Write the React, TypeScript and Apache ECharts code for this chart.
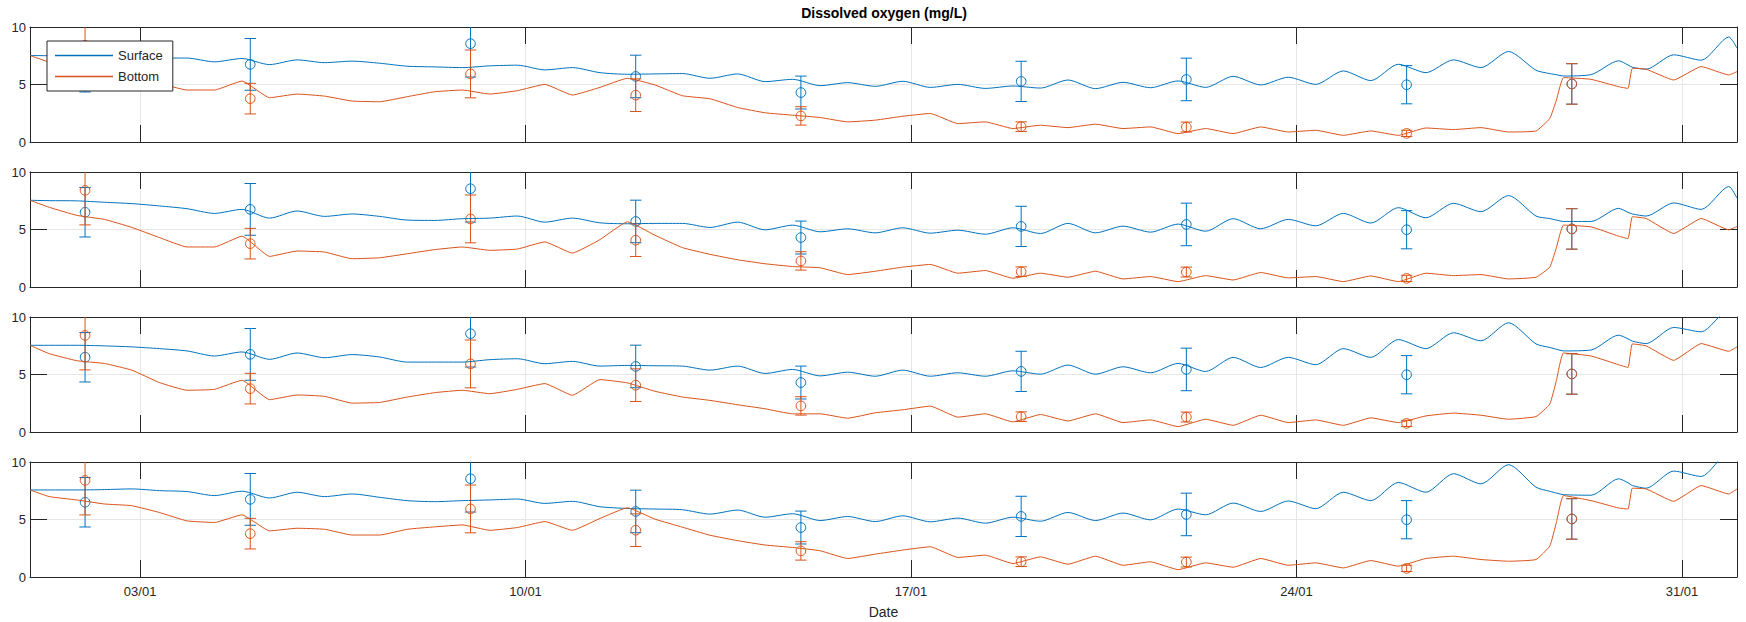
import React, { useEffect, useRef } from 'react';
import * as echarts from 'echarts';

// time in days since 01/01 00:00
const days = [
  0, 0.35, 0.85, 1.35, 1.85, 2.35, 2.85, 3.35, 3.85, 4.35, 4.85, 5.35, 5.85, 6.35, 6.85, 7.35, 7.85, 8.35, 8.85, 9.35, 9.85, 10.35,
  10.85, 11.35, 11.85, 12.35, 12.85, 13.35, 13.85, 14.35, 14.85, 15.35, 15.85, 16.35, 16.85, 17.35, 17.85, 18.35, 18.85, 19.35, 19.85, 20.35, 20.85,
  21.35, 21.85, 22.35, 22.85, 23.35, 23.85, 24.35, 24.85, 25.35, 25.85, 26.35, 26.85,
  27.35, 27.6, 27.72, 27.85, 28.35, 28.85, 29.02, 29.1, 29.35, 29.85, 30.35, 30.85, 31,
];

const surface1 = [
  7.52, 7.5, 7.45, 7.4, 7.35, 7.3, 7.3, 6.97, 7.26, 6.73, 7.14, 6.9, 7.03, 6.85, 6.59, 6.53, 6.47, 6.62, 6.68, 6.27, 6.47, 6.03,
  5.89, 5.92, 5.95, 5.54, 5.92, 5.25, 5.45, 4.9, 5.16, 4.84, 5.28, 4.75, 5.01, 4.66, 4.87, 4.69, 5.39, 4.64, 5.19, 4.72, 5.31,
  4.75, 5.71, 4.96, 5.63, 5.01, 6.18, 5.34, 6.76, 6.03, 7.14, 6.47, 7.87,
  6.24, 5.95, 5.85, 5.74, 5.86, 7.06, 6.7, 6.5, 6.33, 7.58, 7.11, 9.13, 8.16,
];
const bottom1 = [
  7.52, 6.95, 6.5, 6.1, 5.6, 5.1, 4.52, 4.52, 5.3, 3.85, 4.17, 3.99, 3.56, 3.5, 3.94, 4.37, 4.52, 4.17, 4.46, 5.01, 4.08, 4.75,
  5.54, 4.96, 4.02, 3.76, 3.0, 2.54, 2.33, 2.13, 1.75, 1.9, 2.24, 2.48, 1.6, 1.75, 1.17, 1.46, 1.25, 1.55, 1.17, 1.31, 0.73,
  1.17, 0.73, 1.31, 0.87, 1.02, 0.58, 0.96, 0.58, 1.22, 1.08, 1.25, 0.87,
  0.96, 2.04, 3.64, 5.6, 5.45, 4.81, 4.66, 6.41, 6.33, 5.39, 6.56, 5.83, 6.12,
];
const surface2 = [
  7.54, 7.51, 7.49, 7.37, 7.25, 7.05, 6.81, 6.4, 6.75, 5.99, 6.61, 6.14, 6.35, 6.14, 5.82, 5.79, 5.94, 5.99, 6.17, 5.64, 5.99, 5.58,
  5.5, 5.53, 5.53, 5.18, 5.64, 4.97, 5.38, 4.8, 5.06, 4.71, 5.15, 4.68, 4.94, 4.59, 5.15, 4.65, 5.53, 4.71, 5.29, 4.77, 5.47,
  4.85, 5.94, 5.06, 5.88, 5.32, 6.4, 5.56, 6.9, 6.02, 7.28, 6.55, 7.95,
  6.17, 5.95, 5.82, 5.7, 5.7, 6.84, 6.5, 6.35, 6.17, 7.31, 6.75, 8.74, 7.72,
];
const bottom2 = [
  7.54, 6.93, 6.23, 5.88, 5.18, 4.3, 3.48, 3.48, 4.42, 2.66, 3.13, 3.04, 2.46, 2.54, 2.89, 3.25, 3.48, 3.19, 3.3, 3.92, 2.95, 4.12,
  5.67, 4.5, 3.42, 2.84, 2.37, 2.02, 1.78, 1.67, 1.08, 1.37, 1.73, 1.96, 1.2, 1.43, 0.76, 1.2, 0.85, 1.37, 0.7, 0.91, 0.47,
  0.99, 0.61, 1.26, 0.79, 0.91, 0.47, 0.96, 0.47, 1.2, 0.99, 1.08, 0.7,
  0.85, 1.73, 3.42, 5.38, 5.23, 4.42, 4.21, 6.11, 5.96, 4.65, 5.96, 4.97, 5.26,
];
const surface3 = [
  7.54, 7.54, 7.54, 7.49, 7.4, 7.25, 7.05, 6.61, 6.96, 6.32, 6.87, 6.46, 6.73, 6.52, 6.08, 6.08, 6.08, 6.29, 6.37, 5.94, 6.14, 5.73,
  5.79, 5.76, 5.73, 5.38, 5.73, 5.09, 5.44, 4.88, 5.2, 4.85, 5.38, 4.85, 5.15, 4.85, 5.32, 5.03, 5.82, 5.03, 5.67, 5.15, 5.96,
  5.26, 6.49, 5.61, 6.49, 5.85, 7.25, 6.49, 8.04, 7.25, 8.63, 7.93, 9.5,
  7.66, 7.35, 7.2, 7.05, 7.13, 8.42, 8.1, 7.9, 7.69, 9.09, 8.71, 10.6, 10.4,
];
const bottom3 = [
  7.54, 6.81, 6.2, 5.96, 5.38, 4.3, 3.63, 3.71, 4.5, 2.81, 3.22, 3.1, 2.51, 2.57, 3.04, 3.42, 3.63, 3.33, 3.71, 4.21, 3.19, 4.56,
  4.27, 3.54, 3.04, 2.75, 2.37, 2.02, 1.58, 1.58, 1.2, 1.67, 1.93, 2.25, 1.29, 1.58, 0.88, 1.52, 0.96, 1.58, 0.82, 1.05, 0.47,
  1.11, 0.58, 1.46, 0.82, 1.05, 0.58, 1.23, 0.82, 1.4, 1.64, 1.46, 1.11,
  1.34, 2.43, 4.47, 6.87, 6.61, 5.85, 5.61, 7.66, 7.49, 6.23, 7.69, 7.02, 7.4,
];
const surface4 = [
  7.57, 7.57, 7.57, 7.6, 7.66, 7.51, 7.43, 7.08, 7.46, 6.87, 7.37, 6.99, 7.22, 6.93, 6.64, 6.55, 6.64, 6.7, 6.78, 6.4, 6.58, 6.11,
  5.96, 5.91, 5.85, 5.47, 5.82, 5.2, 5.5, 4.91, 5.26, 4.82, 5.32, 4.8, 5.12, 4.68, 5.2, 4.85, 5.61, 4.91, 5.56, 4.97, 5.91,
  5.41, 6.43, 5.7, 6.61, 5.94, 7.37, 6.64, 8.22, 7.37, 8.98, 8.1, 9.77,
  7.81, 7.45, 7.3, 7.16, 7.11, 8.54, 8.2, 7.95, 7.72, 9.21, 8.74, 10.8, 10.6,
];
const bottom4 = [
  7.57, 6.99, 6.7, 6.35, 6.2, 5.61, 4.88, 4.74, 5.41, 4.01, 4.24, 4.15, 3.65, 3.65, 4.15, 4.36, 4.53, 4.06, 4.3, 4.82, 4.06, 5.09,
  6.02, 5.03, 4.33, 3.63, 3.16, 2.78, 2.57, 2.28, 1.61, 1.99, 2.34, 2.63, 1.7, 1.9, 1.17, 1.75, 1.11, 1.81, 1.02, 1.32, 0.64,
  1.23, 0.85, 1.61, 1.02, 1.23, 0.79, 1.43, 0.94, 1.61, 1.81, 1.52, 1.37,
  1.52, 2.69, 4.74, 7.08, 6.64, 6.0, 5.91, 7.72, 7.66, 6.58, 7.95, 7.22, 7.66,
];

// observations (same in every panel)
const obsDays = [1, 4, 8, 11, 14, 18, 21, 25, 28];
const surfaceObs = [6.5, 6.75, 8.55, 5.7, 4.3, 5.27, 5.44, 4.98, 5.05];
const surfaceErr = [2.15, 2.25, 2.9, 1.85, 1.43, 1.75, 1.85, 1.66, 1.76];
const bottomObs = [8.4, 3.77, 5.92, 4.07, 2.27, 1.33, 1.3, 0.75, 5.05];
const bottomErr = [3.0, 1.33, 2.08, 1.42, 0.8, 0.42, 0.43, 0.27, 1.76];

const tickDays = [2, 9, 16, 23, 30];
const tickLabels = ['03/01', '10/01', '17/01', '24/01', '31/01'];

const panels = [
  { surface: surface1, bottom: bottom1 },
  { surface: surface2, bottom: bottom2 },
  { surface: surface3, bottom: bottom3 },
  { surface: surface4, bottom: bottom4 },
];

const BLUE = '#0072BD';
const ORANGE = '#D95319';
const AXIS = '#262626';
const FONT = '"Liberation Sans", Arial, Helvetica, sans-serif';

function errRender(color: string) {
  return (params: any, api: any) => {
    const t = api.value(0);
    const v = api.value(1);
    const e = api.value(2);
    const cs = params.coordSys;
    const top = cs.y;
    const bot = cs.y + cs.height;
    const c = api.coord([t, v]);
    const hi = api.coord([t, v + e]);
    const lo = api.coord([t, v - e]);
    const cap = 5.7;
    const style = { stroke: color, lineWidth: 1, fill: 'none' };
    const children: any[] = [
      { type: 'line', shape: { x1: c[0], y1: Math.max(hi[1], top), x2: c[0], y2: Math.min(lo[1], bot) }, style },
    ];
    if (hi[1] >= top) children.push({ type: 'line', shape: { x1: c[0] - cap, y1: hi[1], x2: c[0] + cap, y2: hi[1] }, style });
    if (lo[1] <= bot) children.push({ type: 'line', shape: { x1: c[0] - cap, y1: lo[1], x2: c[0] + cap, y2: lo[1] }, style });
    children.push({ type: 'circle', shape: { cx: c[0], cy: c[1], r: 4.8 }, style });
    return { type: 'group', children };
  };
}

function buildOption() {
  const grids: any[] = [];
  const xAxes: any[] = [];
  const yAxes: any[] = [];
  const series: any[] = [];
  panels.forEach((p, i) => {
    grids.push({ left: 30, right: 9, top: 27 + 145 * i, height: 115 });
    const tickCommon = {
      show: true,
      inside: true,
      length: 17,
      customValues: tickDays,
      lineStyle: { color: AXIS, width: 1 },
    };
    xAxes.push({
      type: 'value',
      gridIndex: i,
      min: 0,
      max: 31,
      position: 'bottom',
      axisLine: { show: true, onZero: false, lineStyle: { color: AXIS, width: 1 } },
      axisTick: tickCommon,
      axisLabel: {
        show: i === 3,
        customValues: tickDays,
        margin: 8,
        fontSize: 13,
        color: AXIS,
        fontFamily: FONT,
        formatter: (v: number) => {
          const k = tickDays.indexOf(Math.round(v));
          return k >= 0 ? tickLabels[k] : '';
        },
      },
      splitLine: { show: true, lineStyle: { color: '#e6e6e6', width: 1 } },
      name: i === 3 ? 'Date' : '',
      nameLocation: 'middle',
      nameGap: 28,
      nameTextStyle: { fontSize: 14, color: AXIS, fontFamily: FONT },
    });
    xAxes.push({
      type: 'value',
      gridIndex: i,
      min: 0,
      max: 31,
      position: 'top',
      axisLine: { show: true, onZero: false, lineStyle: { color: AXIS, width: 1 } },
      axisTick: tickCommon,
      axisLabel: { show: false },
      splitLine: { show: false },
    });
    yAxes.push({
      type: 'value',
      gridIndex: i,
      min: 0,
      max: 10,
      interval: 5,
      position: 'left',
      axisLine: { show: true, onZero: false, lineStyle: { color: AXIS, width: 1 } },
      axisTick: { show: true, inside: true, length: 17, lineStyle: { color: AXIS, width: 1 } },
      axisLabel: { show: true, margin: 4, fontSize: 13, color: AXIS, fontFamily: FONT },
      splitLine: { show: true, lineStyle: { color: '#e6e6e6', width: 1 } },
    });
    yAxes.push({
      type: 'value',
      gridIndex: i,
      min: 0,
      max: 10,
      interval: 5,
      position: 'right',
      axisLine: { show: true, onZero: false, lineStyle: { color: AXIS, width: 1 } },
      axisTick: { show: true, inside: true, length: 17, lineStyle: { color: AXIS, width: 1 } },
      axisLabel: { show: false },
      splitLine: { show: false },
    });
    series.push({
      type: 'line',
      name: 'Surface',
      xAxisIndex: 2 * i,
      yAxisIndex: 2 * i,
      data: days.map((t, k) => [t, p.surface[k]]),
      showSymbol: false,
      symbol: 'none',
      smooth: 0.25,
      clip: true,
      lineStyle: { color: BLUE, width: 1 },
      itemStyle: { color: BLUE },
    });
    series.push({
      type: 'line',
      name: 'Bottom',
      xAxisIndex: 2 * i,
      yAxisIndex: 2 * i,
      data: days.map((t, k) => [t, p.bottom[k]]),
      showSymbol: false,
      symbol: 'none',
      smooth: 0.12,
      clip: true,
      lineStyle: { color: ORANGE, width: 1 },
      itemStyle: { color: ORANGE },
    });
    series.push({
      type: 'custom',
      name: 'Surface obs',
      xAxisIndex: 2 * i,
      yAxisIndex: 2 * i,
      data: obsDays.map((t, k) => [t, surfaceObs[k], surfaceErr[k]]),
      encode: { x: 0, y: 1 },
      renderItem: errRender(BLUE),
      silent: true,
    });
    series.push({
      type: 'custom',
      name: 'Bottom obs',
      xAxisIndex: 2 * i,
      yAxisIndex: 2 * i,
      data: obsDays.map((t, k) => [t, bottomObs[k], bottomErr[k]]),
      encode: { x: 0, y: 1 },
      renderItem: errRender(ORANGE),
      silent: true,
    });
  });

  return {
    animation: false,
    backgroundColor: '#ffffff',
    textStyle: { fontFamily: FONT },
    title: {
      text: 'Dissolved oxygen (mg/L)',
      left: 884,
      top: 6,
      padding: 0,
      textAlign: 'center',
      textStyle: { fontSize: 14, fontWeight: 'bold', color: '#000000', fontFamily: FONT },
    },
    legend: {
      data: [
        { name: 'Surface', icon: 'rect' },
        { name: 'Bottom', icon: 'rect' },
      ],
      left: 47,
      top: 41,
      orient: 'vertical',
      itemWidth: 58,
      itemHeight: 1.5,
      itemGap: 8,
      padding: [8, 10, 8, 8],
      borderColor: AXIS,
      borderWidth: 1,
      borderRadius: 0,
      backgroundColor: '#ffffff',
      selectedMode: false,
      textStyle: { fontSize: 13, color: AXIS, fontFamily: FONT },
    },
    grid: grids,
    xAxis: xAxes,
    yAxis: yAxes,
    series,
  };
}

export default function App() {
  const ref = useRef<HTMLDivElement>(null);
  useEffect(() => {
    if (!ref.current) return;
    const chart = echarts.init(ref.current, null, { renderer: 'svg' });
    chart.setOption(buildOption() as any);
    return () => chart.dispose();
  }, []);
  return (
    <div
      ref={ref}
      style={{ position: 'absolute', left: 0, top: 0, width: 1746, height: 622, background: '#fff' }}
    />
  );
}
